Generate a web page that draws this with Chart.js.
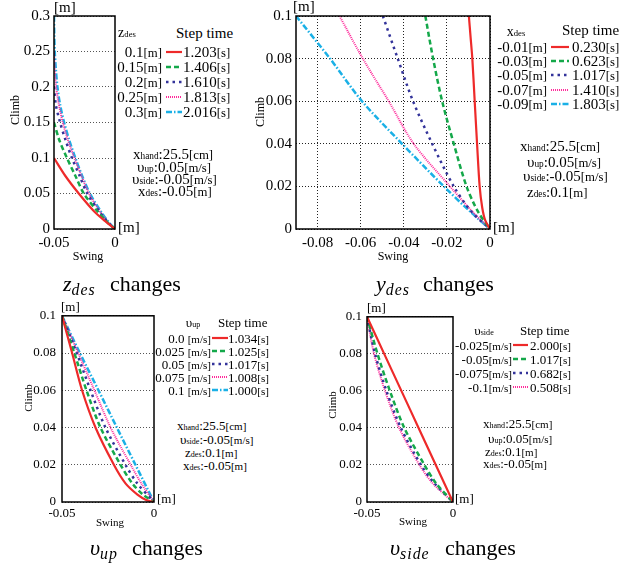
<!DOCTYPE html>
<html>
<head>
<meta charset="utf-8">
<script src="https://cdn.jsdelivr.net/npm/chart.js@4.4.1/dist/chart.umd.min.js"></script>
<style>
    body { margin: 0; width: 620px; height: 565px; position: relative; overflow: hidden; background: #fff; font-family: "Liberation Serif", serif; color: #000; }
    canvas { position: absolute; }
    .t { position: absolute; white-space: nowrap; line-height: 1; }
    .t sub { font-size: 0.72em; vertical-align: -0.25em; line-height: 0; letter-spacing: 1px; }
    .sm { font-size: 0.62em; }
    .br { font-size: 0.85em; }
    .rot { position: absolute; white-space: nowrap; line-height: 1; transform: translate(-50%, -50%) rotate(-90deg); }
</style>
</head>
<body>
<script>
// -- Data: z_des changes --
const zdesLabels = ['0.1', '0.15', '0.2', '0.25', '0.3'];
const zdesTimes = ['1.203', '1.406', '1.610', '1.813', '2.016'];
const zdesX = [-0.05, 0];
const zdesYTicks = [0, 0.05, 0.1, 0.15, 0.2, 0.25, 0.3];
const zdesXTicks = [-0.05, 0];
const zRed = [[-0.05, 0.1], [-0.0408, 0.075], [-0.0297, 0.05], [-0.0172, 0.025], [-0.008, 0.011], [0, 0]];
const zGreen = [[-0.05, 0.15], [-0.0456, 0.125], [-0.0394, 0.1], [-0.0325, 0.075], [-0.0256, 0.05], [-0.0144, 0.025], [-0.006, 0.009], [0, 0]];
const zBlue = [[-0.05, 0.2], [-0.0485, 0.175], [-0.045, 0.15], [-0.0405, 0.125], [-0.0353, 0.1], [-0.029, 0.075], [-0.0228, 0.05], [-0.013, 0.025], [-0.005, 0.008], [0, 0]];
const zPink = [[-0.05, 0.25], [-0.0494, 0.225], [-0.0483, 0.2], [-0.046, 0.175], [-0.0428, 0.15], [-0.0385, 0.125], [-0.0333, 0.1], [-0.0275, 0.075], [-0.0214, 0.05], [-0.0125, 0.025], [-0.005, 0.008], [0, 0]];
const zCyan = [[-0.05, 0.3], [-0.0498, 0.275], [-0.0494, 0.25], [-0.0485, 0.225], [-0.0472, 0.2], [-0.045, 0.175], [-0.0417, 0.15], [-0.0375, 0.125], [-0.0325, 0.1], [-0.027, 0.075], [-0.0206, 0.05], [-0.0117, 0.025], [-0.0045, 0.008], [0, 0]];

// -- Data: y_des changes --
const ydesLabels = ['-0.01', '-0.03', '-0.05', '-0.07', '-0.09'];
const ydesTimes = ['0.230', '0.623', '1.017', '1.410', '1.803'];
const ydesYTicks = [0, 0.02, 0.04, 0.06, 0.08, 0.1];
const ydesXTicks = [-0.08, -0.06, -0.04, -0.02, 0];
const yRed = [[-0.0098, 0.1], [-0.009, 0.09], [-0.0082, 0.08], [-0.0071, 0.06], [-0.006, 0.04], [-0.0048, 0.02], [-0.0036, 0.01], [-0.0022, 0.004], [0, 0]];
const yGreen = [[-0.03, 0.1], [-0.0264, 0.08], [-0.0222, 0.06], [-0.0168, 0.04], [-0.0109, 0.02], [-0.0055, 0.008], [0, 0]];
const yBlue = [[-0.0497, 0.1], [-0.0428, 0.08], [-0.0357, 0.06], [-0.0268, 0.04], [-0.0168, 0.02], [-0.0085, 0.008], [0, 0]];
const yPink = [[-0.0698, 0.1], [-0.059, 0.08], [-0.047, 0.06], [-0.0354, 0.04], [-0.0186, 0.02], [-0.008, 0.008], [0, 0]];
const yCyan = [[-0.09, 0.1], [-0.0742, 0.08], [-0.0594, 0.06], [-0.0408, 0.04], [-0.0214, 0.02], [-0.009, 0.008], [0, 0]];

// -- Data: v_up changes --
const vupLabels = ['0.0 ', '0.025 ', '0.05 ', '0.075 ', '0.1 '];
const vupTimes = ['1.034', '1.025', '1.017', '1.008', '1.000'];
const smallYTicks = [0, 0.02, 0.04, 0.06, 0.08, 0.1];
const smallXTicks = [-0.05, 0];
const uRed = [[-0.05, 0.1], [-0.0445, 0.08], [-0.0391, 0.06], [-0.0318, 0.04], [-0.0218, 0.02], [-0.0155, 0.01], [-0.009, 0.004], [-0.004, 0.001], [0, 0]];
const uGreen = [[-0.05, 0.1], [-0.0433, 0.08], [-0.0367, 0.06], [-0.0291, 0.04], [-0.0182, 0.02], [-0.0118, 0.01], [-0.006, 0.004], [0, 0]];
const uBlue = [[-0.05, 0.1], [-0.042, 0.08], [-0.0345, 0.06], [-0.0264, 0.04], [-0.0155, 0.02], [-0.0091, 0.01], [0, 0]];
const uPink = [[-0.05, 0.1], [-0.0412, 0.08], [-0.0324, 0.06], [-0.0236, 0.04], [-0.0127, 0.02], [-0.0069, 0.01], [0, 0]];
const uCyan = [[-0.05, 0.1], [-0.0403, 0.08], [-0.0302, 0.06], [-0.0202, 0.04], [-0.0101, 0.02], [0, 0]];

// -- Data: v_side changes --
const vsideLabels = ['-0.025', '-0.05', '-0.075', '-0.1'];
const vsideTimes = ['2.000', '1.017', '0.682', '0.508'];
const sRed = [[-0.05, 0.1], [-0.04, 0.08], [-0.03, 0.06], [-0.02, 0.04], [-0.01, 0.02], [0, 0]];
const sGreen = [[-0.05, 0.1], [-0.0439, 0.08], [-0.0367, 0.06], [-0.0283, 0.04], [-0.0166, 0.02], [-0.0098, 0.01], [0, 0]];
const sBlue = [[-0.05, 0.1], [-0.0453, 0.08], [-0.0387, 0.06], [-0.0303, 0.04], [-0.0186, 0.02], [-0.0107, 0.01], [0, 0]];
const sPink = [[-0.05, 0.1], [-0.0459, 0.08], [-0.0395, 0.06], [-0.0313, 0.04], [-0.0195, 0.02], [-0.0117, 0.01], [0, 0]];

// line styles: solid red, dashed green, dotted blue, fine-dotted pink, dash-dot cyan
const styles = [
    { color: '#ee2a2a', dash: [], width: 2.2 },
    { color: '#14a84a', dash: [5, 3], width: 2.5 },
    { color: '#33339a', dash: [2.5, 4], width: 2.5 },
    { color: '#ff2a9a', dash: [1, 1], width: 2 },
    { color: '#1ab0e6', dash: [6, 2, 1.5, 2], width: 2.5 }
];

// -- Plot frame --
const frame = {
    id: 'frame',
    afterDraw(chart) {
        const a = chart.chartArea, ctx = chart.ctx;
        ctx.save();
        ctx.lineWidth = 1.5;
        ctx.strokeStyle = '#000';
        ctx.strokeRect(a.left, a.top, a.right - a.left, a.bottom - a.top);
        ctx.restore();
    }
};

function plot(box, xr, yr, xTicks, yTicks, curves, vgrid, fs, pad) {
    const W = 50, PT = 12, PR = 20, H = 30;
    const cv = document.createElement('canvas');
    cv.width = box.r - box.l + W + PR;
    cv.height = box.b - box.t + PT + H;
    cv.style.left = (box.l - W) + 'px';
    cv.style.top = (box.t - PT) + 'px';
    document.body.appendChild(cv);

    const tickFont = { family: 'Liberation Serif', size: fs };
    new Chart(cv, {
        type: 'scatter',
        data: {
            datasets: curves.map((pts, i) => ({
                data: pts.map(p => ({ x: p[0], y: p[1] })),
                showLine: true,
                borderColor: styles[i].color,
                borderWidth: styles[i].width,
                borderDash: styles[i].dash,
                pointRadius: 0,
                tension: 0.3,
                fill: false
            }))
        },
        options: {
            responsive: false,
            animation: false,
            events: [],
            layout: { padding: { top: PT, right: PR, left: 0, bottom: 0 } },
            plugins: { legend: { display: false }, tooltip: { enabled: false } },
            scales: {
                x: {
                    type: 'linear', min: xr[0], max: xr[1],
                    afterFit: s => { s.height = H; },
                    afterBuildTicks: s => { s.ticks = xTicks.map(v => ({ value: v })); },
                    ticks: { callback: v => String(v), font: tickFont, color: '#000', padding: pad[1], maxRotation: 0, autoSkip: false },
                    grid: { display: vgrid, drawTicks: false, color: '#222', lineWidth: 1 },
                    border: { display: false, dash: [1, 2] }
                },
                y: {
                    type: 'linear', min: yr[0], max: yr[1],
                    afterFit: s => { s.width = W; },
                    afterBuildTicks: s => { s.ticks = yTicks.map(v => ({ value: v })); },
                    ticks: { callback: v => String(v), font: tickFont, color: '#000', padding: pad[0], autoSkip: false },
                    grid: { drawTicks: false, color: vgrid ? '#222' : '#555', lineWidth: 1 },
                    border: { display: false, dash: [1, 2] }
                }
            }
        },
        plugins: [frame]
    });
}

// -- Text helpers --
function T(html, x, cy, size, align) {
    const d = document.createElement('div');
    d.className = 't';
    d.innerHTML = html;
    d.style.fontSize = size + 'px';
    d.style.top = (cy - size / 2) + 'px';
    if (align === 'r') d.style.right = (620 - x) + 'px';
    else if (align === 'c') { d.style.left = x + 'px'; d.style.transform = 'translateX(-50%)'; }
    else d.style.left = x + 'px';
    document.body.appendChild(d);
}
function R(text, x, y, size) {
    const d = document.createElement('div');
    d.className = 'rot';
    d.textContent = text;
    d.style.fontSize = size + 'px';
    d.style.left = x + 'px';
    d.style.top = y + 'px';
    document.body.appendChild(d);
}
function sample(i, x, cy, w) {
    const s = styles[i];
    const ns = 'http://www.w3.org/2000/svg';
    const svg = document.createElementNS(ns, 'svg');
    svg.setAttribute('width', w); svg.setAttribute('height', 6);
    svg.style.position = 'absolute';
    svg.style.left = x + 'px'; svg.style.top = (cy - 3) + 'px';
    const ln = document.createElementNS(ns, 'line');
    ln.setAttribute('x1', 0); ln.setAttribute('y1', 3); ln.setAttribute('x2', w); ln.setAttribute('y2', 3);
    ln.setAttribute('stroke', s.color); ln.setAttribute('stroke-width', s.width);
    if (s.dash.length) ln.setAttribute('stroke-dasharray', s.dash.join(' '));
    svg.appendChild(ln);
    document.body.appendChild(svg);
}
const sm = s => `<span class="sm">${s}</span>`;
const br = s => `<span class="br">${s}</span>`;

function legend(labels, unit, times, rows, labRight, lineX, lineW, valX, size) {
    labels.forEach((lab, i) => {
        T(lab + br(unit), labRight, rows[i], size, 'r');
        sample(i, lineX, rows[i], lineW);
        T(times[i] + br('[s]'), valX, rows[i], size);
    });
}
function title(sym, sub, x, word, wx, cy) {
    T(`<i>${sym}<sub>${sub}</sub></i>`, x, cy, 22);
    T(word, wx, cy, 22);
}

// -- Plots --
plot({ l: 54, t: 15, r: 115, b: 229 }, zdesX, [0, 0.3], zdesXTicks, zdesYTicks,
    [zRed, zGreen, zBlue, zPink, zCyan], false, 15, [4, 5]);
plot({ l: 296, t: 15, r: 490, b: 229 }, [-0.09, 0], [0, 0.1], ydesXTicks, ydesYTicks,
    [yRed, yGreen, yBlue, yPink, yCyan], true, 15, [4, 5]);
plot({ l: 62, t: 314, r: 154, b: 502 }, [-0.05, 0], [0, 0.1], smallXTicks, smallYTicks,
    [uRed, uGreen, uBlue, uPink, uCyan], false, 13, [6, 4]);
plot({ l: 367, t: 316, r: 453, b: 502 }, [-0.05, 0], [0, 0.1], smallXTicks, smallYTicks,
    [sRed, sGreen, sBlue, sPink], false, 13, [5, 4]);

// -- Plot 1 texts --
T('[m]', 54, 7, 15); T('[m]', 118, 227, 15);
R('Climb', 15, 110, 12); T('Swing', 88, 256, 12, 'c');
title('z', 'des', 63, 'changes', 110, 284);
T('z' + sm('des'), 127, 33, 14, 'c'); T('Step time', 176, 33, 15);
legend(zdesLabels, '[m]', zdesTimes, [52, 67, 82, 97, 112], 162, 166, 16, 183, 15);
T('x' + sm('hand') + ':25.5' + br('[cm]'), 133, 154, 15);
T('υ' + sm('up') + ':0.05' + br('[m/s]'), 137, 167, 15);
T('υ' + sm('side') + ':-0.05' + br('[m/s]'), 132, 179, 15);
T('x' + sm('des') + ':-0.05' + br('[m]'), 138, 191, 15);

// -- Plot 2 texts --
T('[m]', 293, 6, 15); T('[m]', 493, 227, 15);
R('Climb', 260, 112, 12); T('Swing', 393, 256, 12, 'c');
title('y', 'des', 376, 'changes', 423, 284);
T('x' + sm('des'), 516, 32, 14, 'c'); T('Step time', 562, 30, 15);
legend(ydesLabels, '[m]', ydesTimes, [47, 61, 75, 90, 104], 547, 551, 18, 572, 15);
T('x' + sm('hand') + ':25.5' + br('[cm]'), 520, 146, 15);
T('υ' + sm('up') + ':0.05' + br('[m/s]'), 527, 162, 15);
T('υ' + sm('side') + ':-0.05' + br('[m/s]'), 523, 176, 15);
T('z' + sm('des') + ':0.1' + br('[m]'), 527, 192, 15);

// -- Plot 3 texts --
T('[m]', 61, 306, 13); T('[m]', 157, 498, 13);
R('Climb', 28, 398, 11); T('Swing', 110, 522, 11, 'c');
title('υ', 'up', 90, 'changes', 132, 548);
T('υ' + sm('up'), 193, 322, 13, 'c'); T('Step time', 218, 322, 13);
legend(vupLabels, '[m/s]', vupTimes, [338, 351, 364, 377, 390], 211, 212, 16, 228, 13);
T('x' + sm('hand') + ':25.5' + br('[cm]'), 177, 425, 13);
T('υ' + sm('side') + ':-0.05' + br('[m/s]'), 180, 439, 13);
T('z' + sm('des') + ':0.1' + br('[m]'), 185, 452, 13);
T('x' + sm('des') + ':-0.05' + br('[m]'), 183, 465, 13);

// -- Plot 4 texts --
T('[m]', 367, 307, 13); T('[m]', 455, 498, 13);
R('Climb', 332, 405, 11); T('Swing', 413, 521, 11, 'c');
title('υ', 'side', 390, 'changes', 445, 548);
T('υ' + sm('side'), 484, 330, 13, 'c'); T('Step time', 520, 330, 13);
legend(vsideLabels, '[m/s]', vsideTimes, [345, 359, 373, 387], 512, 513, 15, 530, 13);
T('x' + sm('hand') + ':25.5' + br('[cm]'), 483, 423, 13);
T('υ' + sm('up') + ':0.05' + br('[m/s]'), 488, 438, 13);
T('z' + sm('des') + ':0.1' + br('[m]'), 485, 451, 13);
T('x' + sm('des') + ':-0.05' + br('[m]'), 483, 463, 13);
</script>
</body>
</html>
